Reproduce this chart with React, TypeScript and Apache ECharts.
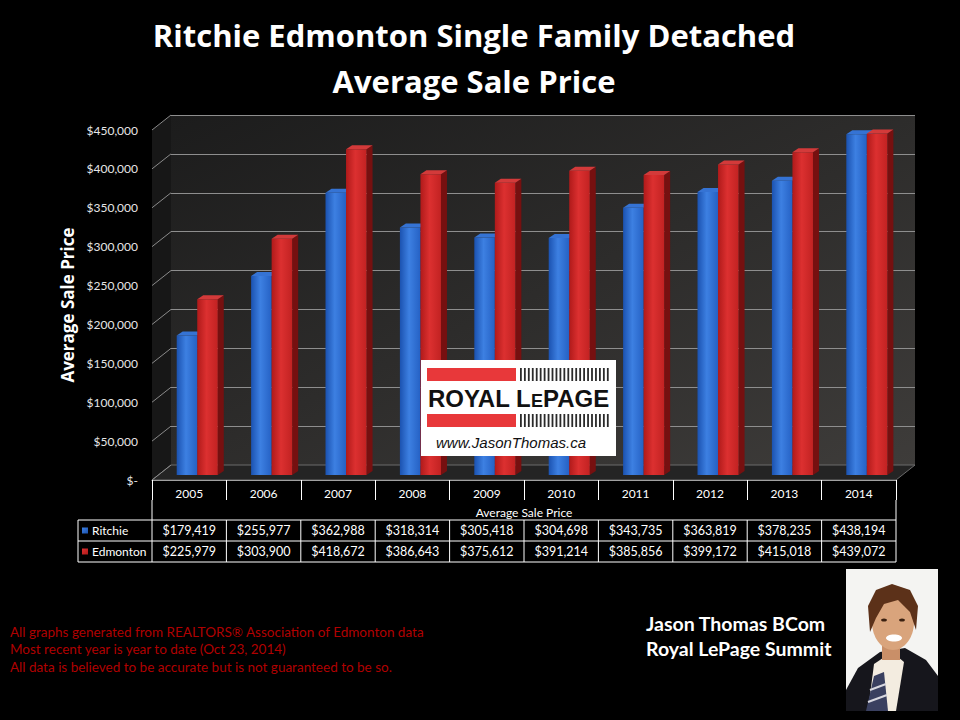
import React, { useEffect, useRef } from 'react';
import * as echarts from 'echarts';

const years = ['2005', '2006', '2007', '2008', '2009', '2010', '2011', '2012', '2013', '2014'];
const ritchie = [179419, 255977, 362988, 318314, 305418, 304698, 343735, 363819, 378235, 438194];
const edmonton = [225979, 303900, 418672, 386643, 375612, 391214, 385856, 399172, 415018, 439072];
const seriesNames = ['Ritchie', 'Edmonton'];
const yTicks = [0, 50000, 100000, 150000, 200000, 250000, 300000, 350000, 400000, 450000];
const titleLines = ['Ritchie Edmonton Single Family Detached', 'Average Sale Price'];
const axisTitle = 'Average Sale Price';
const footnotes = [
  'All graphs generated from REALTORS\u00ae Association of Edmonton data',
  'Most recent year is year to date (Oct 23, 2014)',
  'All data is believed to be accurate but is not guaranteed to be so.',
];
const agentLines = ['Jason Thomas BCom', 'Royal LePage Summit'];

const FONT = 'Lato, "Open Sans", sans-serif';
const HFONT = '"Open Sans", Lato, sans-serif';
const fmt = (v: number) => (v === 0 ? '$-' : '$' + v.toLocaleString('en-US'));

const palette = [
  { f0: '#1b52b0', f1: '#3d80e2', f2: '#2561c4', top: '#3573d4', side: '#173f88' },
  { f0: '#b01a1a', f1: '#dc3030', f2: '#c22222', top: '#d33a3a', side: '#761010' },
];

// layout constants
const G_LEFT = 152;
const G_RIGHT = 64;
const G_TOP = 130;
const G_BOTTOM = 240;
const DEPTH_X = 19;
const DEPTH_Y = 15;
const T_LEFT = 152;
const T_RIGHT = 896;
const T_LEG = 78;
const ROW_Y = [520, 541, 562];

function barRender(which: number) {
  return (params: any, api: any) => {
    const i = api.value(0);
    const v = api.value(1);
    const top = api.coord([i, v]);
    const base = api.coord([i, 0]);
    const cw = api.size([1, 0])[0];
    const bw = cw * 0.276;
    const dx = cw * 0.108;
    const dy = -5;
    const ddx = 6;
    const ddy = 4;
    const x0 = top[0] + dx - (which === 0 ? bw : 0);
    const x1 = x0 + bw;
    const yt = top[1] + dy;
    const yb = base[1] + dy;
    const c = palette[which];
    return {
      type: 'group',
      children: [
        {
          type: 'polygon',
          shape: { points: [[x1, yt], [x1 + ddx, yt - ddy], [x1 + ddx, yb - ddy], [x1, yb]] },
          style: { fill: c.side },
        },
        {
          type: 'rect',
          shape: { x: x0, y: yt, width: bw, height: yb - yt },
          style: {
            fill: new echarts.graphic.LinearGradient(0, 0, 1, 0, [
              { offset: 0, color: c.f0 },
              { offset: 0.45, color: c.f1 },
              { offset: 1, color: c.f2 },
            ]),
          },
        },
        {
          type: 'polygon',
          shape: { points: [[x0, yt], [x1, yt], [x1 + ddx, yt - ddy], [x0 + ddx, yt - ddy]] },
          style: { fill: c.top },
        },
      ],
    };
  };
}

function buildTable(): any[] {
  const els: any[] = [];
  const n = years.length;
  const colW = (T_RIGHT - T_LEFT) / n;
  const line = (x1: number, y1: number, x2: number, y2: number) => ({
    type: 'line',
    z: 20,
    shape: { x1, y1, x2, y2 },
    style: { stroke: '#ffffff', lineWidth: 1 },
  });
  ROW_Y.forEach((y) => els.push(line(T_LEG, y, T_RIGHT, y)));
  els.push(line(T_LEG, ROW_Y[0], T_LEG, ROW_Y[2]));
  els.push(line(T_LEFT, 500, T_LEFT, ROW_Y[2]));
  els.push(line(T_RIGHT, 500, T_RIGHT, ROW_Y[2]));
  for (let k = 1; k < n; k++) {
    const x = T_LEFT + colW * k;
    els.push(line(x, ROW_Y[0], x, ROW_Y[2]));
  }
  const rows = [ritchie, edmonton];
  rows.forEach((vals, r) => {
    const cy = (ROW_Y[r] + ROW_Y[r + 1]) / 2;
    const c = palette[r];
    els.push({
      type: 'rect',
      z: 20,
      shape: { x: 82, y: cy - 3, width: 6, height: 6 },
      style: {
        fill: new echarts.graphic.LinearGradient(0, 0, 1, 1, [
          { offset: 0, color: c.f1 },
          { offset: 1, color: c.f0 },
        ]),
      },
    });
    els.push({
      type: 'text',
      z: 20,
      style: {
        text: seriesNames[r],
        x: 92,
        y: cy,
        fill: '#ffffff',
        font: '12px ' + FONT,
        textAlign: 'left',
        textVerticalAlign: 'middle',
      },
    });
    vals.forEach((v, i) => {
      els.push({
        type: 'text',
        z: 20,
        style: {
          text: fmt(v),
          x: T_LEFT + colW * (i + 0.5),
          y: cy,
          fill: '#ffffff',
          font: '12.5px ' + FONT,
          textAlign: 'center',
          textVerticalAlign: 'middle',
        },
      });
    });
  });
  return els;
}

function buildLogo(): any[] {
  const els: any[] = [];
  els.push({
    type: 'rect',
    z: 30,
    shape: { x: 421, y: 360, width: 195, height: 96 },
    style: { fill: '#ffffff' },
  });
  [368, 414].forEach((y) => {
    els.push({
      type: 'rect',
      z: 31,
      shape: { x: 427, y, width: 89, height: 13 },
      style: { fill: '#e8383a' },
    });
    for (let k = 0; k < 23; k++) {
      els.push({
        type: 'rect',
        z: 31,
        shape: { x: 520 + k * 3.95, y, width: 1.8, height: 13 },
        style: { fill: '#2a2a2a' },
      });
    }
  });
  els.push({
    type: 'text',
    z: 31,
    style: {
      text: '{a|ROYAL L}{b|E}{a|PAGE}',
      x: 518.5,
      y: 398,
      textAlign: 'center',
      textVerticalAlign: 'middle',
      rich: {
        a: { font: 'bold 24px "Liberation Sans", Arial, sans-serif', fill: '#111111' },
        b: { font: 'bold 18px "Liberation Sans", Arial, sans-serif', fill: '#111111', verticalAlign: 'bottom', padding: [6, 0, 0, 0] },
      },
    },
  });
  els.push({
    type: 'text',
    z: 31,
    style: {
      text: 'www.JasonThomas.ca',
      x: 511,
      y: 442,
      textAlign: 'center',
      textVerticalAlign: 'middle',
      font: 'italic 15px "Liberation Sans", Arial, sans-serif',
      fill: '#111111',
    },
  });
  return els;
}

function buildPhoto(): any[] {
  return [
    { type: 'rect', z: 10, shape: { x: 846, y: 569, width: 92, height: 142 }, style: { fill: '#f4f4f2' } },
    {
      type: 'polygon',
      z: 11,
      shape: { points: [[846, 711], [846, 690], [858, 668], [880, 652], [905, 648], [926, 660], [938, 676], [938, 711]] },
      style: { fill: '#16161c' },
    },
    {
      type: 'polygon',
      z: 12,
      shape: { points: [[868, 711], [874, 664], [892, 652], [904, 662], [896, 711]] },
      style: { fill: '#f3ece0' },
    },
    {
      type: 'polygon',
      z: 13,
      shape: { points: [[874, 676], [884, 672], [888, 711], [866, 711]] },
      style: { fill: '#3a4060' },
    },
    { type: 'line', z: 14, shape: { x1: 870, y1: 690, x2: 886, y2: 684 }, style: { stroke: '#d8d8e0', lineWidth: 2 } },
    { type: 'line', z: 14, shape: { x1: 868, y1: 702, x2: 887, y2: 695 }, style: { stroke: '#d8d8e0', lineWidth: 2 } },
    { type: 'rect', z: 12, shape: { x: 882, y: 640, width: 18, height: 20 }, style: { fill: '#c98f68' } },
    { type: 'ellipse', z: 13, shape: { cx: 893, cy: 622, rx: 21, ry: 28 }, style: { fill: '#d9a47c' } },
    {
      type: 'polygon',
      z: 14,
      shape: { points: [[870, 632], [868, 606], [876, 590], [892, 584], [910, 590], [918, 606], [916, 630], [910, 612], [898, 600], [884, 604], [876, 618]] },
      style: { fill: '#5c3119' },
    },
    { type: 'ellipse', z: 15, shape: { cx: 884, cy: 620, rx: 3, ry: 1.6 }, style: { fill: '#3a2010' } },
    { type: 'ellipse', z: 15, shape: { cx: 902, cy: 620, rx: 3, ry: 1.6 }, style: { fill: '#3a2010' } },
    { type: 'ellipse', z: 15, shape: { cx: 894, cy: 638, rx: 8, ry: 3.5 }, style: { fill: '#ffffff' } },
  ];
}

export default function App() {
  const ref = useRef<HTMLDivElement>(null);
  useEffect(() => {
    document.body.style.margin = '0';
    document.body.style.background = '#000';
    if (!ref.current) return;
    const chart = echarts.init(ref.current, undefined, { renderer: 'svg' });

    const walls: any[] = [
      {
        type: 'polygon',
        z: 1,
        shape: {
          points: [
            [G_LEFT, G_TOP],
            [G_LEFT + DEPTH_X, G_TOP - DEPTH_Y],
            [G_LEFT + DEPTH_X, 720 - G_BOTTOM - DEPTH_Y],
            [G_LEFT, 720 - G_BOTTOM],
          ],
        },
        style: { fill: '#171717' },
      },
      {
        type: 'polygon',
        z: 1,
        shape: {
          points: [
            [G_LEFT, 720 - G_BOTTOM],
            [G_LEFT + DEPTH_X, 720 - G_BOTTOM - DEPTH_Y],
            [960 - G_RIGHT + DEPTH_X, 720 - G_BOTTOM - DEPTH_Y],
            [960 - G_RIGHT, 720 - G_BOTTOM],
          ],
        },
        style: { fill: '#242424', stroke: '#6a6a6a', lineWidth: 1 },
      },
    ];

    const footEls = footnotes.map((t, i) => ({
      type: 'text',
      z: 5,
      style: {
        text: t,
        x: 10,
        y: [632, 649, 667][i],
        fill: '#b00000',
        font: '13.5px ' + FONT,
        textAlign: 'left',
        textVerticalAlign: 'middle',
      },
    }));
    const agentEls = agentLines.map((t, i) => ({
      type: 'text',
      z: 5,
      style: {
        text: t,
        x: 646,
        y: [623, 648][i],
        fill: '#ffffff',
        font: 'bold 19.5px ' + FONT,
        textAlign: 'left',
        textVerticalAlign: 'middle',
      },
    }));
    const titleEls = titleLines.map((t, i) => ({
      type: 'text',
      z: 5,
      style: {
        text: t,
        x: 474,
        y: [35, 81][i],
        fill: '#ffffff',
        font: 'bold 31px ' + HFONT,
        textAlign: 'center',
        textVerticalAlign: 'middle',
      },
    }));

    chart.setOption({
      animation: false,
      backgroundColor: '#000000',
      textStyle: { fontFamily: FONT },
      grid: [
        { left: G_LEFT, right: G_RIGHT, top: G_TOP, bottom: G_BOTTOM, containLabel: false },
        {
          left: G_LEFT + DEPTH_X,
          right: G_RIGHT - DEPTH_X,
          top: G_TOP - DEPTH_Y,
          bottom: G_BOTTOM + DEPTH_Y,
          show: true,
          borderWidth: 0,
          backgroundColor: new echarts.graphic.LinearGradient(0, 0, 1, 1, [
            { offset: 0, color: '#1c1c1c' },
            { offset: 1, color: '#3e3c3a' },
          ]),
        },
      ],
      xAxis: [
        {
          type: 'category',
          gridIndex: 0,
          data: years,
          axisLine: { show: true, lineStyle: { color: '#a0a0a0', width: 1 } },
          axisTick: { show: true, length: 20, interval: 0, lineStyle: { color: '#ffffff' } },
          axisLabel: { color: '#ffffff', fontSize: 12, margin: 7, fontFamily: FONT },
          splitLine: { show: false },
          name: axisTitle,
          nameLocation: 'middle',
          nameGap: 26,
          nameTextStyle: { color: '#ffffff', fontSize: 12, fontFamily: FONT },
          z: 6,
        },
        { type: 'category', gridIndex: 1, data: years, show: false },
      ],
      yAxis: [
        {
          type: 'value',
          gridIndex: 0,
          min: 0,
          max: 450000,
          interval: 50000,
          axisLine: { show: false },
          axisTick: { show: false },
          splitLine: { show: false },
          axisLabel: { color: '#e6e6e6', fontSize: 12, margin: 14, formatter: (v: number) => fmt(v), fontFamily: FONT },
          name: axisTitle,
          nameLocation: 'middle',
          nameRotate: 90,
          nameGap: 75,
          nameTextStyle: { color: '#ffffff', fontSize: 17, fontWeight: 'bold', fontFamily: HFONT },
        },
        {
          type: 'value',
          gridIndex: 1,
          min: 0,
          max: 450000,
          interval: 50000,
          axisLine: { show: false },
          axisTick: { show: false },
          axisLabel: { show: false },
          splitLine: { show: true, lineStyle: { color: '#8e8e8e', width: 1 } },
        },
      ],
      series: [
        {
          type: 'custom',
          name: 'wallLines',
          xAxisIndex: 0,
          yAxisIndex: 0,
          z: 3,
          silent: true,
          data: yTicks.map((v) => [0, v]),
          encode: { x: 0, y: 1 },
          renderItem: (params: any, api: any) => {
            const p = api.coord([0, api.value(1)]);
            const x = params.coordSys.x;
            return {
              type: 'line',
              shape: { x1: x, y1: p[1], x2: x + DEPTH_X, y2: p[1] - DEPTH_Y },
              style: { stroke: '#8a8a8a', lineWidth: 1 },
            };
          },
        },
        {
          type: 'custom',
          name: seriesNames[0],
          xAxisIndex: 0,
          yAxisIndex: 0,
          z: 4,
          data: ritchie.map((v, i) => [i, v]),
          encode: { x: 0, y: 1 },
          renderItem: barRender(0),
        },
        {
          type: 'custom',
          name: seriesNames[1],
          xAxisIndex: 0,
          yAxisIndex: 0,
          z: 4,
          data: edmonton.map((v, i) => [i, v]),
          encode: { x: 0, y: 1 },
          renderItem: barRender(1),
        },
      ],
      graphic: {
        elements: [...walls, ...titleEls, ...buildTable(), ...buildLogo(), ...footEls, ...agentEls, ...buildPhoto()],
      },
    });
    return () => chart.dispose();
  }, []);
  return <div ref={ref} style={{ width: 960, height: 720 }} />;
}
